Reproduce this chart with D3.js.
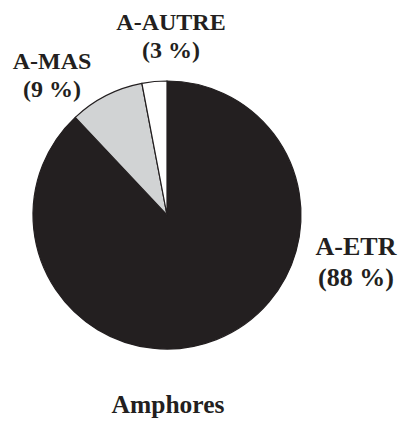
<!DOCTYPE html>
<html>
<head>
<meta charset="utf-8">
<script src="https://cdn.jsdelivr.net/npm/d3@7"></script>
<style>
  body { margin: 0; background: #fff; }
  text { font-family: "Liberation Serif", "Times New Roman", serif; font-weight: bold; fill: #231f20; }
</style>
</head>
<body>
<div id="chart-area"></div>
<script>
// Data
var categories = ["A-ETR", "A-MAS", "A-AUTRE"];
var shares = [88, 9, 3];
var colors = ["#231f20", "#d1d3d4", "#ffffff"];
var title = "Amphores";

var width = 402, height = 421;
var cx = 167, cy = 215, radius = 134;

var svg = d3.select("#chart-area").append("svg")
    .attr("width", width)
    .attr("height", height);

var g = svg.append("g")
    .attr("transform", "translate(" + cx + "," + cy + ")");

var data = categories.map(function(c, i) {
    return { name: c, value: shares[i], color: colors[i] };
});

var pie = d3.pie()
    .sort(null)
    .value(function(d) { return d.value; });

var arc = d3.arc()
    .innerRadius(0)
    .outerRadius(radius);

g.selectAll("path")
    .data(pie(data))
    .enter().append("path")
    .attr("d", arc)
    .attr("fill", function(d) { return d.data.color; })
    .attr("stroke", "#231f20")
    .attr("stroke-width", 1.2);

// Labels, placed outside the pie by hand (x, y, font size, line gap)
var labelPos = {
    "A-ETR":   [356, 255, 26, 31],
    "A-MAS":   [52, 69, 24, 28],
    "A-AUTRE": [171, 30, 24, 28]
};

data.forEach(function(d) {
    var p = labelPos[d.name];
    var t = svg.append("text")
        .attr("x", p[0])
        .attr("y", p[1])
        .attr("text-anchor", "middle")
        .attr("font-size", p[2] + "px");
    t.append("tspan").attr("x", p[0]).text(d.name);
    t.append("tspan").attr("x", p[0]).attr("dy", p[3]).text("(" + d.value + " %)");
});

svg.append("text")
    .attr("x", 168)
    .attr("y", 413)
    .attr("text-anchor", "middle")
    .attr("font-size", "25.5px")
    .text(title);
</script>
</body>
</html>
